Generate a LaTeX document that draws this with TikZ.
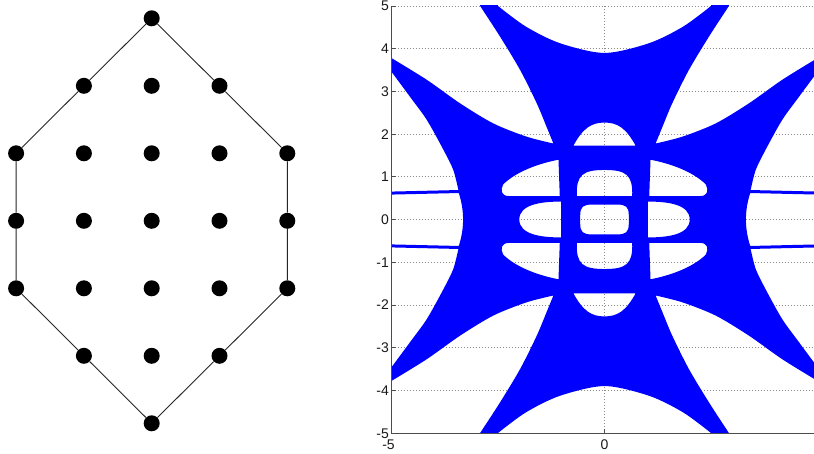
\documentclass[tikz,border=0pt]{standalone}
\usepackage{fontspec}
\setmainfont{Liberation Sans}
\definecolor{amblue}{RGB}{0,0,255}
\tikzset{
  latdot/.style={circle, fill=black, inner sep=0pt, minimum size=16pt},
  hull/.style={draw=black!85, line width=0.9pt},
  gridln/.style={draw=black!45, line width=0.7pt, dash pattern=on 1pt off 2pt},
  axisln/.style={draw=black!70, line width=0.9pt},
  tickln/.style={draw=black!70, line width=0.6pt},
  ticklbl/.style={font=\fontsize{14}{16}\selectfont, inner sep=0pt, text=black!90},
}
% pieces symmetric in x (top/bottom rows), #1 = +1 top, -1 bottom
\newcommand\amV[1]{%
  plot[smooth] coordinates {(-2.5,{5*(#1)}) (-1.85,{4.52*(#1)}) (-1.05,{4.13*(#1)}) (0,{3.9*(#1)}) (1.05,{4.13*(#1)}) (1.85,{4.52*(#1)}) (2.5,{5*(#1)})} -- (2.6,{5.6*(#1)}) -- (-2.6,{5.6*(#1)}) -- cycle
  (0.73,{1.73*(#1)}) .. controls (0.5,{2.15*(#1)}) and (0.3,{2.27*(#1)}) .. (0,{2.27*(#1)}) .. controls (-0.3,{2.27*(#1)}) and (-0.5,{2.15*(#1)}) .. (-0.73,{1.73*(#1)}) -- cycle
  (0.65,{0.55*(#1)}) .. controls (0.67,{1.05*(#1)}) and (0.5,{1.16*(#1)}) .. (0,{1.16*(#1)}) .. controls (-0.5,{1.16*(#1)}) and (-0.67,{1.05*(#1)}) .. (-0.65,{0.55*(#1)}) -- cycle
}
% pieces symmetric in y (middle row), #1 = +1 left, -1 right
\newcommand\amH[1]{%
  ({-5.6*(#1)},0.57) -- ({-3.42*(#1)},0.62) .. controls ({-3.35*(#1)},0.4) and ({-3.32*(#1)},0.2) .. ({-3.32*(#1)},0) .. controls ({-3.32*(#1)},-0.2) and ({-3.35*(#1)},-0.4) .. ({-3.42*(#1)},-0.62) -- ({-5.6*(#1)},-0.57) -- cycle
  ({-1.02*(#1)},0.42) .. controls ({-1.5*(#1)},0.42) and ({-2*(#1)},0.35) .. ({-2*(#1)},0) .. controls ({-2*(#1)},-0.35) and ({-1.5*(#1)},-0.42) .. ({-1.02*(#1)},-0.42) -- cycle
}
% quadrant pieces, #1 = +1 left / -1 right, #2 = +1 top / -1 bottom
\newcommand\amC[2]{%
  plot[smooth] coordinates {({-5*(#1)},{3.78*(#2)}) ({-4.17*(#1)},{3.27*(#2)}) ({-3.39*(#1)},{2.72*(#2)}) ({-2.61*(#1)},{2.25*(#2)}) ({-1.83*(#1)},{1.94*(#2)}) ({-1.2*(#1)},{1.78*(#2)})} -- plot[smooth] coordinates {({-1.2*(#1)},{1.78*(#2)}) ({-1.36*(#1)},{2.17*(#2)}) ({-1.59*(#1)},{2.72*(#2)}) ({-1.98*(#1)},{3.5*(#2)}) ({-2.45*(#1)},{4.28*(#2)}) ({-2.92*(#1)},{5*(#2)})} -- ({-2.95*(#1)},{5.6*(#2)}) -- ({-5.6*(#1)},{5.6*(#2)}) -- ({-5.6*(#1)},{3.78*(#2)}) -- cycle
  plot[smooth] coordinates {({-5*(#1)},{3.46*(#2)}) ({-4.57*(#1)},{2.88*(#2)}) ({-4.17*(#1)},{2.33*(#2)}) ({-3.78*(#1)},{1.63*(#2)}) ({-3.55*(#1)},{1.16*(#2)}) ({-3.43*(#1)},{0.69*(#2)})} -- ({-5.6*(#1)},{0.64*(#2)}) -- ({-5.6*(#1)},{3.46*(#2)}) -- cycle
  ({-1.05*(#1)},{0.55*(#2)}) -- ({-2.25*(#1)},{0.55*(#2)}) .. controls ({-2.42*(#1)},{0.55*(#2)}) and ({-2.45*(#1)},{0.68*(#2)}) .. ({-2.38*(#1)},{0.82*(#2)}) .. controls ({-2.1*(#1)},{1.1*(#2)}) and ({-1.6*(#1)},{1.3*(#2)}) .. ({-1.08*(#1)},{1.4*(#2)}) -- cycle
}
\newcommand\amO{%
  (-0.29,0.35) -- (0.29,0.35) .. controls (0.5,0.35) and (0.57,0.3) .. (0.57,0.1) -- (0.57,-0.1) .. controls (0.57,-0.3) and (0.5,-0.35) .. (0.29,-0.35) -- (-0.29,-0.35) .. controls (-0.5,-0.35) and (-0.57,-0.3) .. (-0.57,-0.1) -- (-0.57,0.1) .. controls (-0.57,0.3) and (-0.5,0.35) .. (-0.29,0.35) -- cycle
}
\begin{document}
\begin{tikzpicture}[x=1pt,y=-1pt]
\useasboundingbox[fill=white] (0,0) rectangle (814,454);
% ---------- lattice polygon ----------
\begin{scope}[shift={(151.7pt,-220.8pt)}, x=67.8pt, y=67.5pt]
  \foreach \c/\r in {2/6, 1/5,2/5,3/5, 0/4,1/4,2/4,3/4,4/4, 0/3,1/3,2/3,3/3,4/3, 0/2,1/2,2/2,3/2,4/2, 1/1,2/1,3/1, 2/0}
    \node[latdot] (p\c\r) at (\c-2,\r-3) {};
  \draw[hull] (p26) -- (p35) -- (p44) -- (p43) -- (p42) -- (p31) -- (p20) -- (p11) -- (p02) -- (p03) -- (p04) -- (p15) -- (p26);
\end{scope}
% ---------- amoeba plot ----------
\begin{scope}[shift={(604.5pt,-219.5pt)}, x=42.6pt, y=42.7pt]
  \foreach \k in {-4,...,5} \draw[gridln] (-5,\k) -- (5,\k);
  \draw[gridln] (0,-5) -- (0,5);
  \begin{scope}
    \clip (-5,-5) rectangle (5,5);
    \fill[amblue, even odd rule] (-6,-6) rectangle (6,6)
      \amV{1} \amV{-1} \amH{1} \amH{-1}
      \amC{1}{1} \amC{-1}{1} \amC{1}{-1} \amC{-1}{-1} \amO;
  \end{scope}
  \draw[axisln] (-5,5) -- (-5,-5) -- (5,-5);
  \foreach \k in {-5,...,5} \draw[tickln] (-5,\k) -- ++(4pt,0);
  \foreach \k in {-5,0,5} \draw[tickln] (\k,-5) -- ++(0,4pt);
  \foreach \k in {-5,...,5}
    \node[ticklbl, anchor=base east, xshift=-2.5pt, yshift=-5pt] (ylab\k) at (-5,\k) {\k};
  \node[ticklbl, anchor=base, xshift=-3pt, yshift=-16pt] (xlabm) at (-5,-5) {-5};
  \node[ticklbl, anchor=base, yshift=-16pt] (xlabz) at (0,-5) {0};
  \node[ticklbl, anchor=base, yshift=-16pt] (xlabp) at (5,-5) {5};
\end{scope}
\end{tikzpicture}
\end{document}
